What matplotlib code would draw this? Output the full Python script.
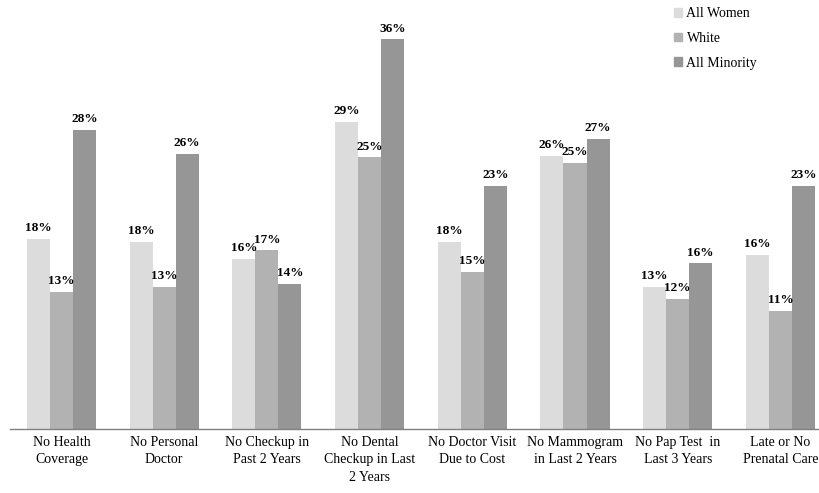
import matplotlib
matplotlib.use("Agg")
import matplotlib.pyplot as plt
import numpy as np
from matplotlib.patches import Patch

plt.rcParams['font.family'] = ['Liberation Serif', 'DejaVu Serif']

categories = ["No Health\nCoverage", "No Personal\nDoctor", "No Checkup in\nPast 2 Years",
              "No Dental\nCheckup in Last\n2 Years", "No Doctor Visit\nDue to Cost",
              "No Mammogram\nin Last 2 Years", "No Pap Test  in\nLast 3 Years",
              "Late or No\nPrenatal Care"]
series = ["All Women", "White", "All Minority"]
colors = ["#dcdcdc", "#b2b2b2", "#969696"]

# bar heights (percent)
all_women = [17.6, 17.3, 15.7, 28.4, 17.3, 25.2, 13.1, 16.1]
white = [12.7, 13.1, 16.5, 25.1, 14.5, 24.6, 12.0, 10.9]
minority = [27.6, 25.4, 13.4, 36.0, 22.5, 26.8, 15.3, 22.5]

# printed labels
lab_women = ["18%", "18%", "16%", "29%", "18%", "26%", "13%", "16%"]
lab_white = ["13%", "13%", "17%", "25%", "15%", "25%", "12%", "11%"]
lab_minority = ["28%", "26%", "14%", "36%", "23%", "27%", "16%", "23%"]

values = [all_women, white, minority]
labels = [lab_women, lab_white, lab_minority]

fig = plt.figure(figsize=(8.2, 4.93), dpi=100)
ax = fig.add_axes([10.15/820, 64/493, 821.6/820, 422/493])

x = np.arange(len(categories))
w = 0.224
for k in range(3):
    xs = x + (k - 1) * w
    bars = ax.bar(xs, values[k], w, color=colors[k], label=series[k])
    for xi, v, t in zip(xs, values[k], labels[k]):
        ax.annotate(t, (xi, v), xytext=(0, 3.5), textcoords="offset points",
                    ha="center", va="bottom", fontsize=9.5, fontweight="bold")

ax.set_xlim(-0.5, 7.5)
ax.set_ylim(0, 39)
ax.set_xticks(x)
ax.set_xticklabels(categories, fontsize=10, linespacing=1.45)
ax.tick_params(axis="x", length=0, pad=5)
ax.set_yticks([])
for s in ["top", "right", "left"]:
    ax.spines[s].set_visible(False)
ax.spines["bottom"].set_color("#808080")
ax.spines["bottom"].set_linewidth(1)

handles = [Patch(color=c) for c in colors]
fig.legend(handles, series, loc="upper left", bbox_to_anchor=(674/820, 1 - 7/493),
           frameon=False, fontsize=10, handlelength=0.6, handleheight=0.6,
           handletextpad=0.3, labelspacing=0.85, borderpad=0, borderaxespad=0)

fig.savefig("out.png", dpi=100)
